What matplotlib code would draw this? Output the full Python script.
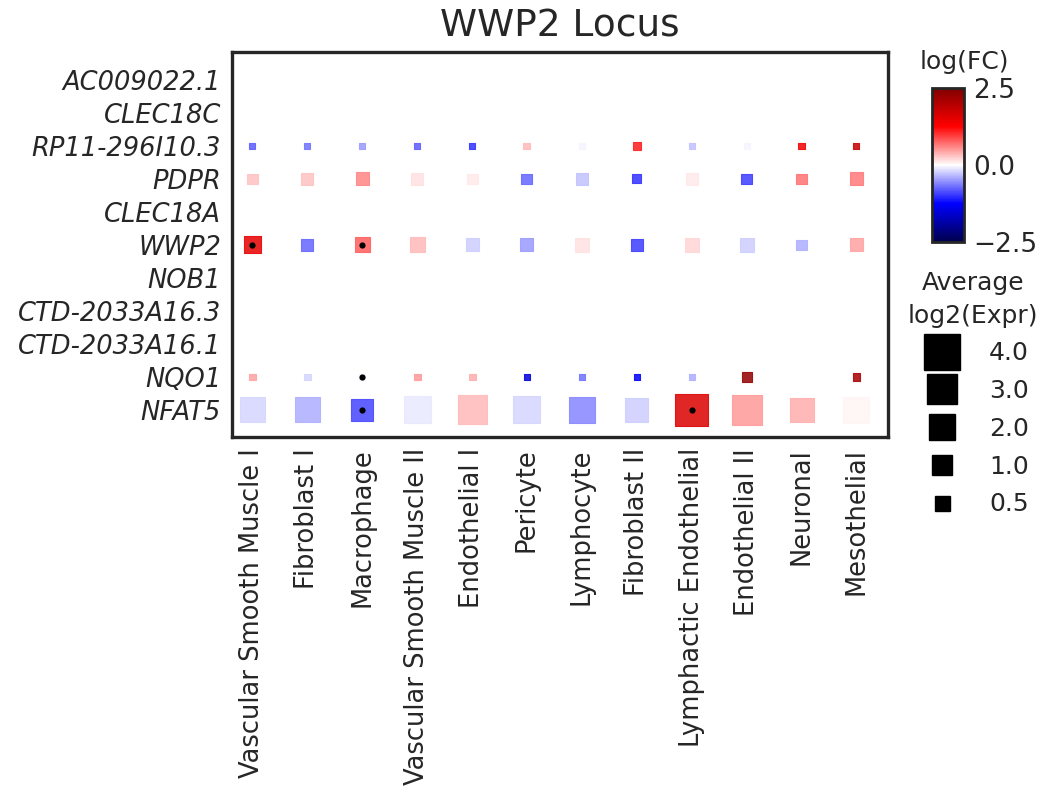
import numpy as np
import matplotlib
matplotlib.use("Agg")
import matplotlib.pyplot as plt
from matplotlib.lines import Line2D
from matplotlib.colors import Normalize

plt.rcParams['font.family'] = ['DejaVu Sans']

genes = ["AC009022.1", "CLEC18C", "RP11-296I10.3", "PDPR", "CLEC18A", "WWP2",
         "NOB1", "CTD-2033A16.3", "CTD-2033A16.1", "NQO1", "NFAT5"]
cell_types = ["Vascular Smooth Muscle I", "Fibroblast I", "Macrophage",
              "Vascular Smooth Muscle II", "Endothelial I", "Pericyte", "Lymphocyte",
              "Fibroblast II", "Lymphactic Endothelial", "Endothelial II", "Neuronal",
              "Mesothelial"]
nan = np.nan
empty = [nan] * 12

# log fold change per gene (rows) x cell type (columns)
logfc_rp11 = [-0.8, -0.7, -0.5, -0.8, -1.0, 0.35, -0.05, 1.1, -0.3, -0.05, 1.4, 1.8]
logfc_pdpr = [0.3, 0.3, 0.6, 0.15, 0.1, -0.75, -0.3, -1.0, 0.1, -0.95, 0.7, 0.65]
logfc_wwp2 = [1.5, -0.75, 0.8, 0.35, -0.25, -0.5, 0.15, -0.95, 0.2, -0.25, -0.4, 0.45]
logfc_nqo1 = [0.45, -0.2, -0.05, 0.5, 0.4, -1.5, -0.7, -1.3, -0.4, 2.3, nan, 2.1]
logfc_nfat5 = [-0.2, -0.4, -0.9, -0.1, 0.35, -0.2, -0.6, -0.25, 1.6, 0.5, 0.4, 0.05]

# average log2 expression per gene x cell type
expr_rp11 = [0.16, 0.16, 0.16, 0.16, 0.16, 0.21, 0.16, 0.25, 0.16, 0.16, 0.16, 0.16]
expr_pdpr = [0.52, 0.62, 0.73, 0.62, 0.52, 0.52, 0.62, 0.35, 0.62, 0.52, 0.52, 0.73]
expr_wwp2 = [1.25, 0.62, 0.97, 0.97, 0.73, 0.73, 0.85, 0.62, 0.85, 0.85, 0.52, 0.73]
expr_nqo1 = [0.21, 0.21, 0.16, 0.21, 0.21, 0.16, 0.16, 0.16, 0.16, 0.43, nan, 0.25]
expr_nfat5 = [2.70, 2.70, 2.09, 3.15, 3.63, 3.15, 2.92, 2.30, 4.70, 3.89, 2.49, 2.92]

# significance markers (gene, cell type)
sig_genes = ["WWP2", "WWP2", "NQO1", "NFAT5", "NFAT5"]
sig_cells = ["Vascular Smooth Muscle I", "Macrophage", "Macrophage", "Macrophage",
             "Lymphactic Endothelial"]

legend_values = [4.0, 3.0, 2.0, 1.0, 0.5]
cbar_ticks = [-2.5, 0.0, 2.5]

logfc = np.array([empty, empty, logfc_rp11, logfc_pdpr, empty, logfc_wwp2,
                  empty, empty, empty, logfc_nqo1, logfc_nfat5], dtype=float)
expr = np.array([empty, empty, expr_rp11, expr_pdpr, empty, expr_wwp2,
                 empty, empty, empty, expr_nqo1, expr_nfat5], dtype=float)

TXT = "#262626"
fig = plt.figure(figsize=(10.5, 7.99), dpi=100)
ax = fig.add_axes([0.221, 0.453, 0.625, 0.482])

cmap = plt.get_cmap("seismic")
norm = Normalize(vmin=-2.5, vmax=2.5)

yy, xx = np.meshgrid(np.arange(len(genes)), np.arange(len(cell_types)), indexing="ij")
mask = ~np.isnan(logfc)
ax.scatter(xx[mask], yy[mask], s=120 * expr[mask], c=logfc[mask], cmap=cmap, norm=norm,
           marker="s", linewidths=0.8, edgecolors="face", alpha=0.85, zorder=2)

sx = [cell_types.index(c) for c in sig_cells]
sy = [genes.index(g) for g in sig_genes]
ax.scatter(sx, sy, s=20, c="black", marker="o", linewidths=0, zorder=3)

ax.set_xlim(-0.37, len(cell_types) - 1 + 0.58)
ax.set_ylim(len(genes) - 1 + 0.82, -0.85)
ax.set_xticks(range(len(cell_types)))
ax.set_xticklabels(cell_types, rotation=90, fontsize=18.5, color=TXT)
ax.set_yticks(range(len(genes)))
ax.set_yticklabels(genes, fontsize=18.5, style="italic", color=TXT)
ax.tick_params(length=0, pad=8)
for sp in ax.spines.values():
    sp.set_linewidth(2.4)
    sp.set_color(TXT)
ax.set_title("WWP2 Locus", fontsize=27, color=TXT, pad=11)

# colorbar
cax = fig.add_axes([0.888, 0.697, 0.030, 0.193])
sm = matplotlib.cm.ScalarMappable(norm=norm, cmap=cmap)
cb = fig.colorbar(sm, cax=cax, ticks=cbar_ticks)
cb.ax.tick_params(length=0, labelsize=19, colors=TXT, pad=7)
cb.outline.set_linewidth(2)
cb.outline.set_edgecolor(TXT)
cax.set_yticklabels([f"{t:.1f}".replace("-", "\u2212") for t in cbar_ticks])
fig.text(0.918, 0.922, "log(FC)", ha="center", va="center", fontsize=18, color=TXT)

# size legend
def legend_ms(v):
    return np.sqrt(286 * v + 82) / (100 / 72)

handles = [Line2D([], [], marker="s", linestyle="none", color="black",
                  markersize=legend_ms(v)) for v in legend_values]
leg = fig.legend(handles, [f"{v:.1f}" for v in legend_values],
                 title="Average\nlog2(Expr)", loc="upper left",
                 bbox_to_anchor=(0.862, 0.664), frameon=False, fontsize=18,
                 title_fontsize=18, labelspacing=0.55, handletextpad=0.9,
                 borderpad=0.1, borderaxespad=0)
for t in leg.get_texts():
    t.set_color(TXT)
leg.get_title().set_color(TXT)
leg.get_title().set_multialignment("center")
leg.get_title().set_linespacing(1.45)

fig.savefig("out.png", dpi=100)
